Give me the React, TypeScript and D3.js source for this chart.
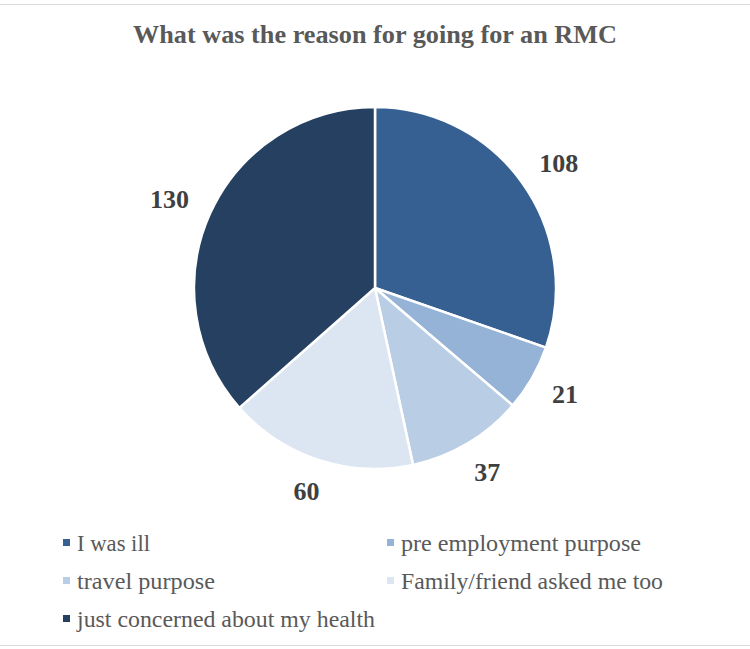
import React from "react";
import * as d3 from "d3";

const categories = [
  "I was ill",
  "pre employment purpose",
  "travel purpose",
  "Family/friend asked me too",
  "just concerned about my health",
];
const values = [108, 21, 37, 60, 130];
const colors = ["#365f92", "#95b3d7", "#b9cde5", "#dce6f2", "#254061"];
const title = "What was the reason for going for an RMC";

const W = 750;
const H = 649;
const cx = 375;
const cy = 288;
const R = 181;
const anchorR = 206;
const serif = "'Liberation Serif', 'DejaVu Serif', serif";

export default function App() {
  const pie = d3.pie<number>().sort(null).value((d) => d)(values);
  const arc = d3.arc<d3.PieArcDatum<number>>().innerRadius(0).outerRadius(R);

  const legendPos = [
    { x: 63, y: 543 },
    { x: 387, y: 543 },
    { x: 63, y: 581 },
    { x: 387, y: 581 },
    { x: 63, y: 619 },
  ];
  const legendWidths = [73, 240, 138, 262, 298];

  return (
    <div style={{ position: "fixed", left: 0, top: 0, width: W, height: H, background: "#fff" }}>
      <svg width={W} height={H} style={{ display: "block" }}>
        <rect x={0} y={0} width={W} height={H} fill="#fff" />
        <line x1={0} x2={W} y1={4.5} y2={4.5} stroke="#d9d9d9" strokeWidth={1} />
        <line x1={0} x2={W} y1={645.5} y2={645.5} stroke="#d9d9d9" strokeWidth={1} />
        <text
          x={133}
          y={43}
          fill="#595959"
          fontFamily={serif}
          fontWeight="bold"
          fontSize={26}
          textLength={484}
          lengthAdjust="spacingAndGlyphs"
        >
          {title}
        </text>
        <g transform={`translate(${cx},${cy})`}>
          {pie.map((d, i) => (
            <path key={i} d={arc(d) || ""} fill={colors[i]} stroke="#fff" strokeWidth={2.5} strokeLinejoin="round" />
          ))}
          {pie.map((d, i) => {
            const a = (d.startAngle + d.endAngle) / 2;
            const s = Math.sin(a);
            const c = Math.cos(a);
            const w = String(values[i]).length * 13;
            const h = 17;
            const lx = anchorR * s + (s * w) / 2;
            const ly = -anchorR * c - (c * h) / 2;
            return (
              <text
                key={"l" + i}
                x={lx}
                y={ly}
                dy="0.33em"
                textAnchor="middle"
                fill="#404040"
                fontFamily={serif}
                fontWeight="bold"
                fontSize={26}
              >
                {values[i]}
              </text>
            );
          })}
        </g>
        {categories.map((c, i) => (
          <g key={"lg" + i} transform={`translate(${legendPos[i].x},${legendPos[i].y})`}>
            <rect x={0} y={-4} width={7} height={7} fill={colors[i]} />
            <text
              x={14}
              y={0}
              dy="0.33em"
              fill="#595959"
              fontFamily={serif}
              fontSize={23}
              textLength={legendWidths[i]}
              lengthAdjust="spacingAndGlyphs"
            >
              {c}
            </text>
          </g>
        ))}
      </svg>
    </div>
  );
}
